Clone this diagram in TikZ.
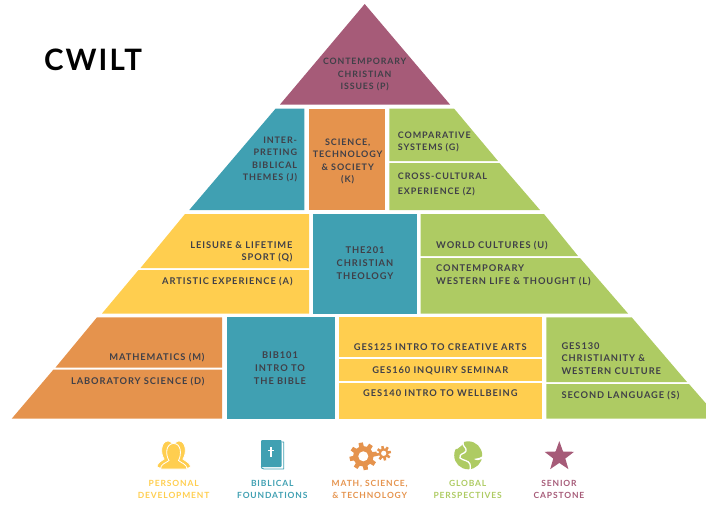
\documentclass[tikz,border=0pt]{standalone}
\usepackage{fontspec}
\usetikzlibrary{shapes.geometric}
\newfontfamily\labfont[LetterSpace=10]{Lato}
\newfontfamily\capfont[LetterSpace=10]{Lato}
\newfontfamily\titlefont[LetterSpace=7]{Lato}
\definecolor{cOrange}{HTML}{E5934D}
\definecolor{cTeal}{HTML}{40A0B2}
\definecolor{cYellow}{HTML}{FFCE4F}
\definecolor{cGreen}{HTML}{AECB63}
\definecolor{cPlum}{HTML}{A65B78}
\definecolor{cText}{HTML}{404048}
\newcommand{\lstrut}{\rule[-1pt]{0pt}{7.5pt}}
\tikzset{
  lbl/.style={inner sep=0pt,yshift=-0.8pt,text=cText,font=\labfont\bfseries\fontsize{9.3}{12.6}\selectfont,
     execute at begin node=\lstrut,execute at end node=\lstrut},
  lc/.style={lbl,align=center,anchor=center},
  lr/.style={lbl,align=right,anchor=east},
  ll/.style={lbl,align=left,anchor=west},
  smaller/.style={font=\labfont\bfseries\fontsize{8.8}{12.6}\selectfont},
  tiertwo/.style={font=\labfont\bfseries\fontsize{9}{12.6}\selectfont},
  leg/.style={inner sep=0pt,yshift=-0.7pt,align=center,anchor=center,font=\capfont\bfseries\fontsize{8.5}{12.7}\selectfont,
     execute at begin node=\lstrut,execute at end node=\lstrut},
}
\begin{document}
\begin{tikzpicture}[x=1pt,y=-1pt]
\useasboundingbox (0,0) rectangle (706,506);
% top
\fill[cPlum] (364.7,4) -- (450,104.5) -- (280,104.5) -- cycle;
% tier 2
\fill[cTeal] (275.7,108.5) -- (304.3,108.5) -- (304.3,210) -- (189.3,210) -- cycle;
\fill[cOrange] (309,108.5) rectangle (385,210);
\fill[cGreen] (389.3,108.5) -- (454,108.5) -- (498,161) -- (389.3,161) -- cycle;
\fill[cGreen] (389.3,163) -- (499.5,163) -- (540,210) -- (389.3,210) -- cycle;
% tier 3
\fill[cYellow] (185,214) -- (309,214) -- (309,268) -- (140.5,268) -- cycle;
\fill[cYellow] (138.5,270) -- (309,270) -- (309,313.5) -- (102,313.5) -- cycle;
\fill[cTeal] (313.3,214) rectangle (416.7,313.5);
\fill[cGreen] (420.7,214) -- (544,214) -- (578,256) -- (420.7,256) -- cycle;
\fill[cGreen] (420.7,258) -- (580,258) -- (628,313.5) -- (420.7,313.5) -- cycle;
% tier 4
\fill[cOrange] (97,317.3) -- (222,317.3) -- (222,367.5) -- (55.5,367.5) -- cycle;
\fill[cOrange] (53.5,369.5) -- (222,369.5) -- (222,418.7) -- (11.7,418.7) -- cycle;
\fill[cTeal] (226.7,317.3) rectangle (335,418.7);
\fill[cYellow] (339.3,317.3) rectangle (542,357.3);
\fill[cYellow] (339.3,359) rectangle (542,381);
\fill[cYellow] (339.3,383) rectangle (542,418.7);
\fill[cGreen] (546.3,317.3) -- (631.7,317.3) -- (687,382) -- (546.3,382) -- cycle;
\fill[cGreen] (546.3,384) -- (689,384) -- (706,403.5) -- (706,418.7) -- (546.3,418.7) -- cycle;

% title
\node[inner sep=0pt,anchor=center,text=black,font=\titlefont\bfseries\fontsize{29.5}{31}\selectfont] (title) at (93,60) {CWILT};

% labels
\node[lc,smaller] (p) at (364.7,74) {CONTEMPORARY\\CHRISTIAN\\ISSUES (P)};
\node[lr,tiertwo] (j) at (297.3,158.7) {INTER-\\PRETING\\BIBLICAL\\THEMES (J)};
\node[lc,tiertwo] (k) at (347.7,160.7) {SCIENCE,\\TECHNOLOGY\\\& SOCIETY\\(K)};
\node[ll,tiertwo] (g) at (397.7,141.2) {COMPARATIVE\\SYSTEMS (G)};
\node[ll,tiertwo] (z) at (397.7,183.5) {CROSS-CULTURAL\\[2.4pt]EXPERIENCE (Z)};
\node[lr] (q) at (292.7,251.2) {LEISURE \& LIFETIME\\SPORT (Q)};
\node[lr] (a) at (292.7,281) {ARTISTIC EXPERIENCE (A)};
\node[lc] (the) at (365,262.7) {THE201\\CHRISTIAN\\THEOLOGY};
\node[ll] (u) at (436,245) {WORLD CULTURES (U)};
\node[ll] (l) at (436,274.7) {CONTEMPORARY\\WESTERN LIFE \& THOUGHT (L)};
\node[lr] (m) at (204.7,357) {MATHEMATICS (M)};
\node[lr] (d) at (204.7,380.3) {LABORATORY SCIENCE (D)};
\node[lc] (bib) at (280,367.7) {BIB101\\INTRO TO\\THE BIBLE};
\node[lc] (g125) at (440.3,346.3) {GES125 INTRO TO CREATIVE ARTS};
\node[lc] (g160) at (440.3,369.7) {GES160 INQUIRY SEMINAR};
\node[lc] (g140) at (440.3,393) {GES140 INTRO TO WELLBEING};
\node[ll] (g130) at (561.3,358) {GES130\\CHRISTIANITY \&\\WESTERN CULTURE};
\node[ll] (s) at (561.3,394.3) {SECOND LANGUAGE (S)};

% legend text
\node[leg,text=cYellow] (l1) at (173.7,489.3) {PERSONAL\\DEVELOPMENT};
\node[leg,text=cTeal] (l2) at (272.3,489.3) {BIBLICAL\\FOUNDATIONS};
\node[leg,text=cOrange] (l3) at (369.7,489.3) {MATH, SCIENCE,\\\& TECHNOLOGY};
\node[leg,text=cGreen] (l4) at (467.7,489.3) {GLOBAL\\PERSPECTIVES};
\node[leg,text=cPlum] (l5) at (559,489.3) {SENIOR\\CAPSTONE};

% people icon
\begin{scope}[fill=cYellow,draw=white,line width=0.8pt]
  \path[fill,draw] (157,466) .. controls (158,462) and (162,461) .. (164,459) .. controls (160,453) and (161,441) .. (168,441) .. controls (174,441) and (176,453) .. (172,460) -- (172,468) -- (160,468) .. controls (158,468) and (157,467) .. (157,466) -- cycle;
  \path[fill,draw] (190.5,466) .. controls (189,462) and (185,461) .. (183,459) .. controls (187,453) and (186,441) .. (179,441) .. controls (173,441) and (171,453) .. (175,460) -- (175,468) -- (188,468) .. controls (190,468) and (190.5,467) .. (190.5,466) -- cycle;
  \path[fill,draw] (160.5,469) .. controls (160.5,464) and (166,463) .. (169,460.5) .. controls (165,454) and (166,443.5) .. (173.7,443.5) .. controls (181,443.5) and (182,454) .. (178.5,460.5) .. controls (181,463) and (187,464) .. (187,469) -- cycle;
\end{scope}

% book icon
\draw[cTeal,line width=0.9pt,line join=round] (282,442) -- (283.7,442) -- (283.7,469) -- (264,469) .. controls (262,469) and (261.3,468) .. (261.3,466);
\fill[cTeal,rounded corners=1pt] (261,440) rectangle (281.7,467);
\fill[white] (270.2,447) rectangle (271.8,456.5);
\fill[white] (268,449.5) rectangle (274,451);

% gears
\foreach \cx/\cy/\rb/\rt/\rh/\tw/\n in {363.3/456.3/10.2/13.8/5/2.9/8, 383.7/453.3/5/7.3/2.6/1.6/8}{
  \fill[cOrange] (\cx,\cy) circle[radius=\rb];
  \foreach \k in {1,...,\n}{
    \fill[cOrange,shift={(\cx,\cy)},rotate=\k*360/\n+11] (-\tw,0) -- (-0.75*\tw,-\rt) -- (0.75*\tw,-\rt) -- (\tw,0) -- cycle;
  }
  \fill[white] (\cx,\cy) circle[radius=\rh];
}

% globe
\fill[cGreen] (468.2,455.3) circle[radius=14];
\draw[white,line width=1.3pt,line cap=round] (463,442) .. controls (462,447) and (467,447) .. (466,451) .. controls (465,454) and (459,453) .. (460,458);
\draw[white,line width=1.3pt,line cap=round] (460,458) .. controls (464,461) and (468,460) .. (470,464) .. controls (471,467) and (470,468) .. (470,470);
\fill[white] (456,444) .. controls (459,441.5) and (462,441) .. (464,442) .. controls (462,447) and (459,446) .. (457,449) -- (454.5,448) -- cycle;
\fill[white] (474,459) .. controls (478,458) and (481,458) .. (483,456) -- (483,458.5) .. controls (480,460) and (477,461) .. (474,459) -- cycle;

% star
\node[star,star points=5,star point ratio=2.45,fill=cPlum,inner sep=0pt,minimum size=31pt] (star) at (559.3,456.6) {};
\end{tikzpicture}
\end{document}
